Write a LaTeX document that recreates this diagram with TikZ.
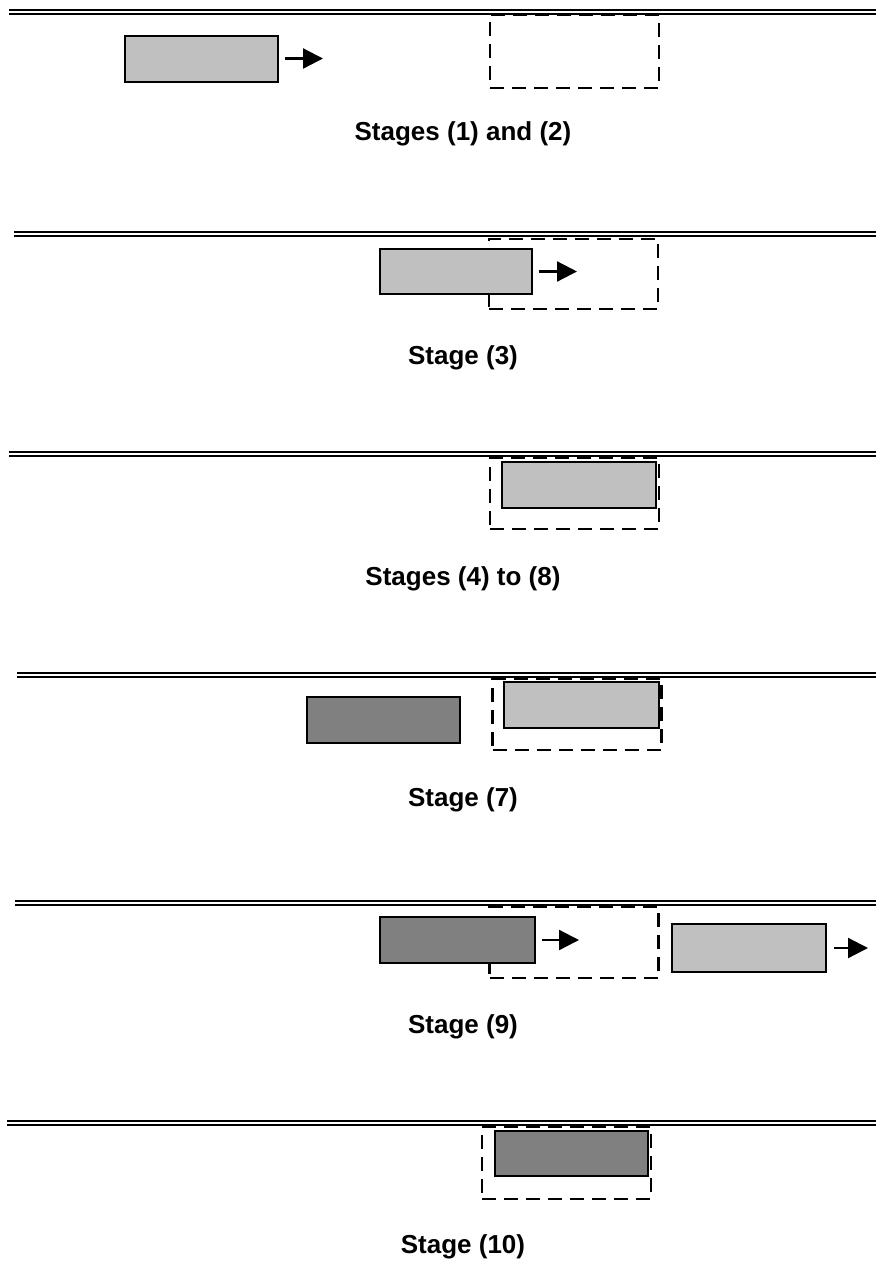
\documentclass[tikz,border=0pt]{standalone}
\usepackage{fontspec}
\setmainfont{Liberation Sans}
\usetikzlibrary{arrows.meta}
\definecolor{cinzaclaro}{HTML}{C0C0C0}
\definecolor{cinzaescuro}{HTML}{808080}
\tikzset{
trilho/.style = {double, double distance=2.2pt, line width=1.9pt}
}
\tikzset{
janela/.style = {draw, line width=2.4pt, dash pattern=on 14pt off 8pt, inner sep=0pt,
                 minimum width=169pt, minimum height=71pt},
bloco/.style = {draw, line width=2pt, inner sep=0pt, minimum width=153pt, minimum height=46pt},
claro/.style = {bloco, fill=cinzaclaro},
escuro/.style = {bloco, fill=cinzaescuro},
seta/.style = {line width=2.2pt, shorten <=6pt, -{Triangle[length=20pt,width=20pt]}},
legenda/.style = {font=\fontsize{26}{31}\selectfont\bfseries}
}

\begin{document}
\begin{tikzpicture}[x=1pt,y=-1pt]
        \useasboundingbox (0,0) rectangle (876,1261);

        % estagios (1) e (2)
        \draw[trilho] (9,12) -- (876,12);
        \node[janela, minimum height=73pt] (j1) at (574.5,51.5) {};
        \node[claro] (b1) at (201,58.5) {};
        \coordinate (p1) at (323,58.5);
        \draw[seta] (b1) -- (p1);
        \node[legenda] (l1) at (463,134) {Stages (1) and (2)};

        % estagio (3)
        \draw[trilho] (14,234) -- (876,234);
        \node[janela, minimum height=70pt] (j2) at (573.5,274) {};
        \node[claro, minimum width=152pt, minimum height=45pt] (b2) at (456,271.5) {};
        \coordinate (p2) at (577,271.5);
        \draw[seta] (b2) -- (p2);
        \node[legenda] (l2) at (463,358) {Stage (3)};

        % estagios (4) a (8)
        \draw[trilho] (9,454) -- (876,454);
        \node[janela] (j3) at (574.5,493.5) {};
        \node[claro, minimum width=154pt] (b3) at (579,485) {};
        \node[legenda] (l3) at (463,579) {Stages (4) to (8)};

        % estagio (7)
        \draw[trilho] (17,675) -- (876,675);
        \node[janela] (j4) at (577,714.5) {};
        \node[claro, minimum width=155pt] (b4) at (581.5,705) {};
        \node[escuro] (d4) at (383.5,720) {};
        \node[legenda] (l4) at (463,800) {Stage (7)};

        % estagio (9)
        \draw[trilho] (15,903) -- (876,903);
        \node[janela, minimum height=71pt] (j5) at (574,942.5) {};
        \node[escuro, minimum width=155pt] (d5) at (457.5,940) {};
        \coordinate (p5) at (579,940);
        \draw[seta] (d5) -- (p5);
        \node[claro, minimum width=154pt, minimum height=48pt] (b5) at (749,948) {};
        \coordinate (q5) at (868,948);
        \draw[seta, shorten <=7pt] (b5) -- (q5);
        \node[legenda] (l5) at (463,1027) {Stage (9)};

        % estagio (10)
        \draw[trilho] (7,1123) -- (876,1123);
        \node[janela, minimum height=72pt] (j6) at (566.5,1163) {};
        \node[escuro, minimum width=153pt, minimum height=45pt] (d6) at (571.5,1153.5) {};
        \node[legenda] (l6) at (463,1247) {Stage (10)};
\end{tikzpicture}
\end{document}
